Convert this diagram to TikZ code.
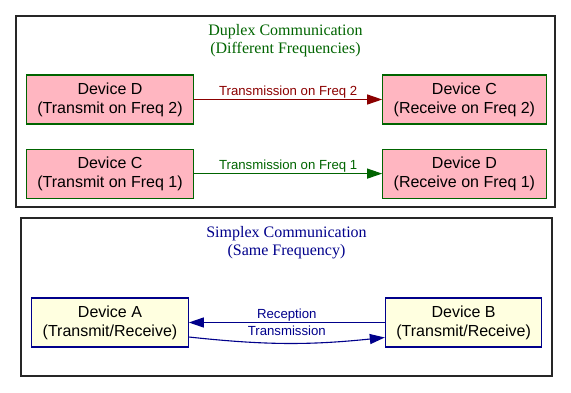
\documentclass[tikz,border=0pt]{standalone}
\usepackage{fontspec}
\setmainfont{Liberation Serif}
\setsansfont{Liberation Sans}
\usepackage{xcolor}
\usepackage{tikz}
\usetikzlibrary{arrows.meta,positioning}

\definecolor{darkgreen}{HTML}{006400}
\definecolor{darkred}{HTML}{8B0000}
\definecolor{darkblue}{HTML}{00008B}
\definecolor{lightpink}{HTML}{FFB6C1}
\definecolor{lightyellow}{HTML}{FFFFE0}

\begin{document}
\begin{tikzpicture}[x=1pt, y=-1pt,
    cluster/.style={rectangle, draw=black!85, line width=1.1pt, inner sep=0pt},
    clustertitle/.style={font=\fontsize{16}{18}\selectfont, align=center, inner sep=0pt},
    device/.style={rectangle, draw, line width=1.1pt, font=\sffamily\fontsize{16}{19}\selectfont, align=center, minimum height=49pt, inner xsep=11pt},
    pinkbox/.style={device, draw=darkgreen, fill=lightpink},
    yellowbox/.style={device, draw=darkblue, fill=lightyellow},
    link/.style={line width=1.1pt, -{Triangle[length=15pt, width=10pt]}},
    linklabel/.style={font=\sffamily\fontsize{13.2}{15}\selectfont, inner sep=1pt, text height=9.5pt, text depth=2.8pt}]
    \useasboundingbox (0,0) rectangle (571,392);

    % duplex: two one-way links on separate frequencies
    \node (duplex) [cluster, minimum width=539pt, minimum height=191pt] at (285.5,111.5) {};
    \node (dupTitle) [clustertitle, text=darkgreen, below=9pt of duplex.north] {Duplex Communication\\(Different Frequencies)};

    \node (txD2) [pinkbox] at (110,99.5) {Device D\\(Transmit on Freq 2)};
    \node (rxC2) [pinkbox, right=188pt of txD2] {Device C\\(Receive on Freq 2)};
    \node (txC1) [pinkbox, below=24pt of txD2] {Device C\\(Transmit on Freq 1)};
    \node (rxD1) [pinkbox, below=24pt of rxC2] {Device D\\(Receive on Freq 1)};

    \draw [link, darkred] (txD2) -- node[linklabel, above] {Transmission on Freq 2} (rxC2);
    \draw [link, darkgreen] (txC1) -- node[linklabel, above] {Transmission on Freq 1} (rxD1);

    % simplex: both directions share one frequency
    \node (simplex) [cluster, minimum width=531pt, minimum height=158pt] at (286.5,297) {};
    \node (simTitle) [clustertitle, text=darkblue, below=9pt of simplex.north] {Simplex Communication\\(Same Frequency)};

    \node (devA) [yellowbox] at (110,322.5) {Device A\\(Transmit/Receive)};
    \node (devB) [yellowbox, right=196pt of devA] {Device B\\(Transmit/Receive)};

    \draw [link, darkblue] (devB) -- node[linklabel, above] {Reception} (devA);
    \draw [link, darkblue] ([yshift=-14.5pt]devA.east) to[bend right=6] node[linklabel, above=3pt] {Transmission} ([yshift=-15pt]devB.west);
\end{tikzpicture}
\end{document}
